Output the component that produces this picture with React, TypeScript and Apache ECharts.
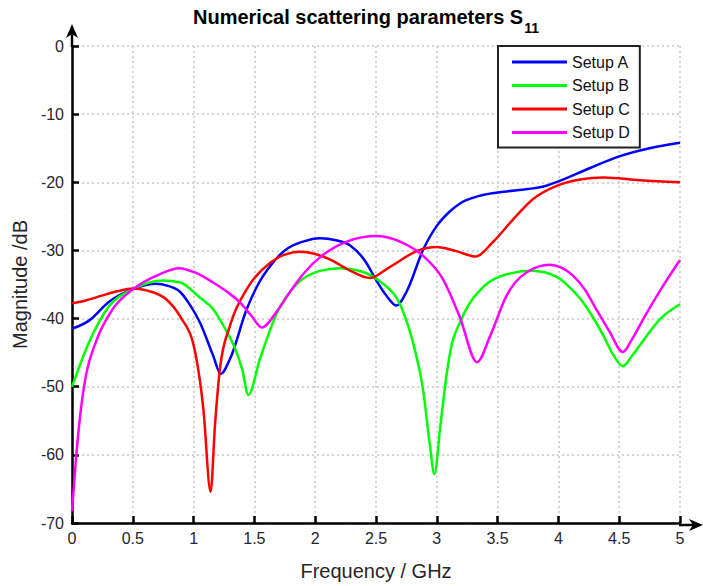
import React, { useEffect, useRef } from "react";
import * as echarts from "echarts";

const FONT = "'Liberation Sans', Arial, Helvetica, sans-serif";

const seriesNames = ["Setup A", "Setup B", "Setup C", "Setup D"];
const seriesColors = ["#0000ff", "#00ff00", "#ff0000", "#ff00ff"];

const xTicks = [0, 0.5, 1, 1.5, 2, 2.5, 3, 3.5, 4, 4.5, 5];
const yTicks = [0, -10, -20, -30, -40, -50, -60, -70];

const aX = [0, 0.14, 0.3, 0.5, 0.69, 0.79, 0.89, 0.97, 1.05, 1.16, 1.223, 1.3, 1.437, 1.53, 1.63, 1.75, 1.9, 2.04, 2.17, 2.29, 2.42, 2.49, 2.58, 2.67, 2.75, 2.89, 3.0, 3.1, 3.2, 3.35, 3.55, 3.75, 3.9, 4.01, 4.26, 4.5, 4.75, 5.0];
const aY = [-41.5, -40.3, -37.6, -35.7, -34.9, -35.2, -36.1, -38.0, -40.5, -45.4, -48.1, -45.9, -38.6, -35.0, -32.3, -30.0, -28.7, -28.2, -28.5, -29.3, -31.8, -34.0, -36.5, -38.1, -36.1, -29.8, -26.4, -24.4, -23.0, -22.0, -21.4, -21.0, -20.5, -19.8, -17.9, -16.2, -15.0, -14.2];

const bX = [0, 0.142, 0.3, 0.5, 0.75, 0.89, 1.05, 1.16, 1.25, 1.33, 1.4, 1.45, 1.546, 1.69, 1.85, 2.04, 2.2, 2.4, 2.53, 2.71, 2.81, 2.89, 2.94, 2.98, 3.03, 3.08, 3.11, 3.2, 3.38, 3.575, 3.78, 3.99, 4.08, 4.18, 4.28, 4.37, 4.45, 4.53, 4.6, 4.67, 4.84, 5.0];
const bY = [-50.0, -43.4, -38.3, -35.7, -34.4, -34.7, -36.9, -38.6, -41.2, -43.9, -47.5, -51.2, -45.9, -39.0, -34.9, -33.0, -32.6, -33.2, -34.5, -38.4, -43.9, -50.8, -58.1, -62.8, -55.6, -48.3, -44.9, -40.2, -35.4, -33.5, -33.0, -33.9, -35.2, -37.1, -39.7, -42.5, -45.3, -47.0, -45.6, -43.9, -40.0, -37.9];

const cX = [0, 0.12, 0.25, 0.37, 0.5, 0.62, 0.77, 0.9, 1.0, 1.08, 1.14, 1.176, 1.217, 1.3, 1.436, 1.63, 1.77, 1.875, 2.12, 2.29, 2.45, 2.59, 2.67, 2.835, 3.0, 3.16, 3.32, 3.46, 3.63, 3.79, 3.99, 4.18, 4.37, 4.67, 5.0];
const cY = [-37.75, -37.3, -36.6, -36.0, -35.6, -35.9, -37.1, -40.0, -43.9, -53.2, -65.4, -55.6, -47.3, -41.0, -35.7, -31.8, -30.5, -30.2, -31.3, -33.0, -34.05, -32.7, -31.8, -30.1, -29.5, -30.1, -30.9, -28.8, -25.4, -22.5, -20.5, -19.6, -19.3, -19.7, -20.0];

const dX = [0, 0.033, 0.074, 0.115, 0.197, 0.335, 0.5, 0.72, 0.88, 1.02, 1.16, 1.27, 1.38, 1.48, 1.56, 1.69, 1.8, 1.9, 2.09, 2.26, 2.505, 2.72, 2.9, 3.05, 3.19, 3.33, 3.44, 3.575, 3.65, 3.74, 3.93, 4.02, 4.12, 4.22, 4.31, 4.42, 4.53, 4.6, 4.7, 4.85, 5.0];
const dY = [-68.3, -60.5, -53.2, -48.3, -43.4, -38.6, -35.7, -33.5, -32.6, -33.3, -34.7, -36.0, -37.6, -39.7, -41.3, -38.8, -35.9, -33.5, -30.3, -28.7, -27.9, -28.9, -31.0, -34.2, -39.8, -46.4, -42.5, -36.6, -34.6, -33.2, -32.1, -32.5, -33.7, -35.8, -38.6, -41.9, -44.9, -43.2, -40.0, -35.5, -31.4];

const allX = [aX, bX, cX, dX];
const allY = [aY, bY, cY, dY];

// Monotone cubic (Fritsch–Carlson) path through pixel points
function monotonePath(pts: number[][]): string {
  const n = pts.length;
  const xs = pts.map((p) => p[0]);
  const ys = pts.map((p) => p[1]);
  const s: number[] = [];
  for (let i = 0; i < n - 1; i++) s.push((ys[i + 1] - ys[i]) / (xs[i + 1] - xs[i]));
  const m: number[] = new Array(n).fill(0);
  for (let i = 1; i < n - 1; i++) {
    const h0 = xs[i] - xs[i - 1];
    const h1 = xs[i + 1] - xs[i];
    const p = (s[i - 1] * h1 + s[i] * h0) / (h0 + h1);
    m[i] = (Math.sign(s[i - 1]) + Math.sign(s[i])) * Math.min(Math.abs(s[i - 1]), Math.abs(s[i]), 0.5 * Math.abs(p)) || 0;
  }
  m[0] = (3 * s[0] - m[1]) / 2;
  m[n - 1] = (3 * s[n - 2] - m[n - 2]) / 2;
  let d = `M${xs[0]},${ys[0]}`;
  for (let i = 0; i < n - 1; i++) {
    const h = xs[i + 1] - xs[i];
    d += ` C${xs[i] + h / 3},${ys[i] + (m[i] * h) / 3} ${xs[i + 1] - h / 3},${ys[i + 1] - (m[i + 1] * h) / 3} ${xs[i + 1]},${ys[i + 1]}`;
  }
  return d;
}

export default function App() {
  const ref = useRef<HTMLDivElement>(null);
  useEffect(() => {
    if (!ref.current) return;
    const chart = echarts.init(ref.current, null, { renderer: "svg" });
    const series = seriesNames.map((name, i) => {
      const data = allX[i].map((x, k) => [x, allY[i][k]]);
      return {
        name,
        type: "custom",
        coordinateSystem: "cartesian2d",
        data,
        itemStyle: { color: seriesColors[i] },
        z: 3,
        silent: true,
        renderItem: (params: any, api: any) => {
          if (params.dataIndex !== 0) return null;
          const pts = data.map((p) => api.coord(p));
          return {
            type: "path",
            shape: { pathData: monotonePath(pts) },
            style: { stroke: seriesColors[i], fill: "none", lineWidth: 2.5 },
          };
        },
      };
    });
    chart.setOption({
      animation: false,
      backgroundColor: "#ffffff",
      textStyle: { fontFamily: FONT },
      title: {
        left: 193,
        top: 7,
        padding: 0,
        text: "{t|Numerical scattering parameters S}{s|11}",
        textStyle: {
          rich: {
            t: { fontSize: 20, fontWeight: "bold", color: "#000", lineHeight: 22, verticalAlign: "top", fontFamily: FONT },
            s: { fontSize: 14, fontWeight: "bold", color: "#000", lineHeight: 14, padding: [14, 0, 0, 1], verticalAlign: "top", fontFamily: FONT },
          },
        },
      },
      legend: {
        data: seriesNames,
        orient: "vertical",
        left: 498,
        top: 46,
        icon: "rect",
        itemWidth: 55,
        itemHeight: 3,
        itemGap: 7.5,
        padding: [8, 10, 7, 14],
        borderColor: "#222",
        borderWidth: 2,
        borderRadius: 0,
        backgroundColor: "#ffffff",
        textStyle: { fontSize: 16, color: "#111", lineHeight: 16, fontFamily: FONT },
        z: 10,
      },
      grid: { left: 72, right: 23, top: 46, bottom: 61, containLabel: false },
      xAxis: {
        type: "value",
        min: xTicks[0],
        max: xTicks[xTicks.length - 1],
        interval: xTicks[1] - xTicks[0],
        name: "Frequency / GHz",
        nameLocation: "middle",
        nameGap: 38,
        nameTextStyle: { fontSize: 20, color: "#262626", fontFamily: FONT },
        axisLine: { show: true, onZero: false, lineStyle: { color: "#000", width: 2.5 } },
        axisTick: { show: true, inside: true, length: 7, lineStyle: { color: "#000", width: 2.5 } },
        axisLabel: { fontSize: 16, color: "#262626", margin: 7, fontFamily: FONT, formatter: (v: number) => String(v) },
        splitLine: { show: true, lineStyle: { color: "#d4d4d4", type: [2, 3], width: 2 } },
      },
      yAxis: {
        type: "value",
        min: yTicks[yTicks.length - 1],
        max: yTicks[0],
        interval: 10,
        name: "Magnitude /dB",
        nameLocation: "middle",
        nameGap: 40,
        nameTextStyle: { fontSize: 20, color: "#262626", fontFamily: FONT },
        axisLine: { show: true, onZero: false, lineStyle: { color: "#000", width: 2.5 } },
        axisTick: { show: true, inside: true, length: 7, lineStyle: { color: "#000", width: 2.5 } },
        axisLabel: { fontSize: 16, color: "#262626", margin: 8, fontFamily: FONT },
        splitLine: { show: true, lineStyle: { color: "#d4d4d4", type: [2, 3], width: 2 } },
      },
      graphic: [
        { type: "line", shape: { x1: 72, y1: 47, x2: 72, y2: 30 }, style: { stroke: "#000", lineWidth: 2.5 }, z: 20 },
        { type: "polygon", shape: { points: [[72, 24], [66, 38], [72, 34], [78, 38]] }, style: { fill: "#000" }, z: 20 },
        { type: "line", shape: { x1: 679, y1: 525, x2: 695, y2: 525 }, style: { stroke: "#000", lineWidth: 2.5 }, z: 20 },
        { type: "polygon", shape: { points: [[703, 525], [689, 519], [693, 525], [689, 531]] }, style: { fill: "#000" }, z: 20 },
      ],
      series,
    });
    return () => chart.dispose();
  }, []);
  return (
    <div
      ref={ref}
      style={{ position: "fixed", left: 0, top: 0, width: 703, height: 586, background: "#fff" }}
    />
  );
}
